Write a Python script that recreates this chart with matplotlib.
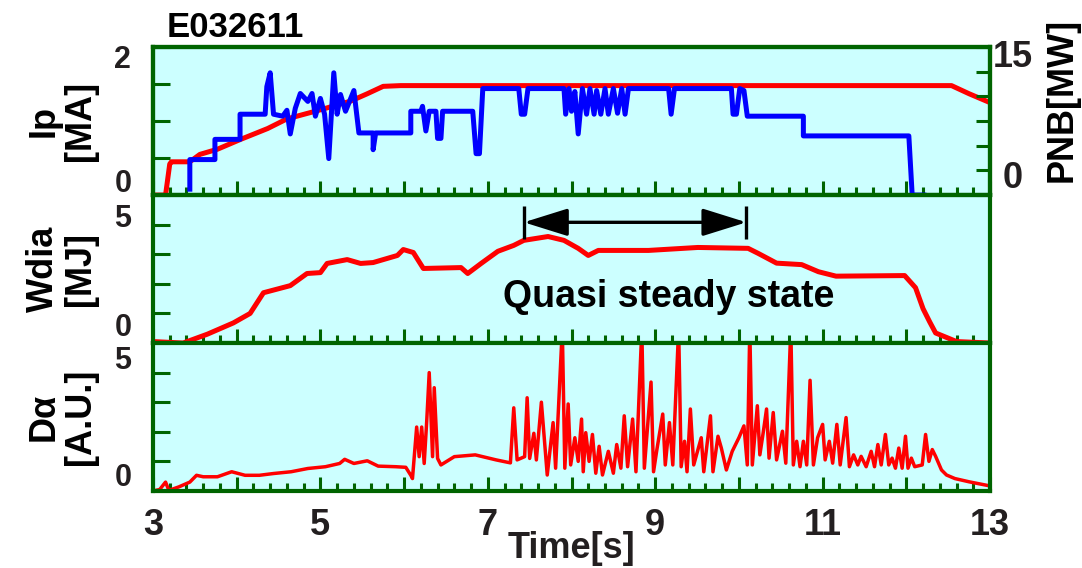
import numpy as np
import matplotlib
matplotlib.use('Agg')
import matplotlib.pyplot as plt
from matplotlib.ticker import MultipleLocator, FuncFormatter

plt.rcParams['font.family'] = ['Liberation Sans', 'DejaVu Sans']
plt.rcParams['font.weight'] = 'bold'

# ---- data ----
shot = 'E032611'

ip_t = [3.05, 3.15, 3.20, 3.22, 3.44, 3.56, 3.77, 4.04, 4.37, 4.60, 4.96, 5.36, 5.56,
        5.75, 5.96, 7.0, 8.0, 9.0, 10.0, 11.0, 12.0, 12.54, 12.75, 13.0]
ip_ma = [0.0, 0.0, 0.42, 0.45, 0.45, 0.55, 0.62, 0.75, 0.90, 1.03, 1.14, 1.27, 1.37,
         1.47, 1.48, 1.48, 1.48, 1.48, 1.48, 1.48, 1.48, 1.48, 1.37, 1.25]

pnb_t = [3.44, 3.44, 3.74, 3.74, 4.04, 4.04, 4.34, 4.36, 4.40, 4.44, 4.55, 4.60, 4.64,
         4.70, 4.76, 4.85, 4.90, 4.94, 5.00, 5.05, 5.10, 5.16, 5.20, 5.24, 5.30, 5.40,
         5.46, 5.63, 5.63, 5.66, 6.08, 6.08, 6.20, 6.22, 6.26, 6.30, 6.38, 6.40, 6.44,
         6.46, 6.82, 6.86, 6.90, 6.94, 7.37, 7.40, 7.44, 7.48, 7.91, 7.93, 7.97, 8.00,
         8.04, 8.08, 8.13, 8.18, 8.22, 8.27, 8.30, 8.35, 8.40, 8.44, 8.50, 8.55, 8.60,
         8.64, 8.68, 9.16, 9.19, 9.23, 9.91, 9.93, 9.97, 10.01, 10.06, 10.10, 10.77,
         10.77, 12.03, 12.07, 12.21]
pnb_mw = [0.6, 3.6, 3.6, 5.65, 5.65, 8.2, 8.2, 11.0, 12.4, 8.2, 8.0, 8.6, 6.2,
          8.8, 10.3, 9.5, 10.3, 8.0, 9.8, 8.2, 3.7, 12.4, 8.2, 10.2, 8.5, 10.6,
          6.3, 6.3, 4.6, 6.3, 6.3, 8.5, 8.5, 9.0, 6.5, 8.5, 8.5, 5.75, 5.75,
          8.5, 8.5, 4.2, 4.2, 10.8, 10.8, 8.2, 8.2, 10.8, 10.8, 8.2, 10.8, 8.5,
          10.5, 6.2, 10.8, 8.2, 10.8, 8.2, 10.6, 8.2, 10.8, 8.2, 10.8, 8.3, 10.8,
          8.2, 10.8, 10.8, 8.2, 10.8, 10.8, 8.2, 8.2, 10.8, 10.6, 8.0, 8.0,
          6.0, 6.0, 0.0, 0.0]

wdia_t = [3.0, 3.36, 3.65, 3.96, 4.16, 4.32, 4.64, 4.84, 5.00, 5.08, 5.32, 5.48, 5.63,
          5.92, 5.99, 6.11, 6.23, 6.68, 6.76, 6.92, 7.12, 7.31, 7.43, 7.72, 7.91, 8.08,
          8.20, 8.32, 8.92, 9.51, 10.11, 10.23, 10.45, 10.75, 10.95, 11.16, 11.98,
          12.11, 12.20, 12.28, 12.35, 12.60, 13.0]
wdia_mj = [0.05, 0.0, 0.3, 0.68, 1.0, 1.7, 1.94, 2.35, 2.38, 2.69, 2.82, 2.69, 2.72,
           2.96, 3.16, 3.06, 2.52, 2.55, 2.35, 2.69, 3.1, 3.3, 3.47, 3.6, 3.47, 3.2,
           2.96, 3.13, 3.13, 3.23, 3.2, 3.03, 2.70, 2.65, 2.41, 2.26, 2.28,
           1.87, 1.16, 0.71, 0.34, 0.05, 0.0]

da_t = [3.00, 3.08, 3.15, 3.19, 3.31, 3.44, 3.52, 3.60, 3.77, 3.94, 4.10, 4.27, 4.44,
        4.65, 4.85, 5.06, 5.23, 5.29, 5.40, 5.56, 5.69, 5.90, 6.02, 6.08, 6.10, 6.15,
        6.18, 6.21, 6.24, 6.27, 6.30, 6.34, 6.36, 6.40, 6.44, 6.60, 6.85, 7.10, 7.27,
        7.31, 7.35, 7.44, 7.47, 7.50, 7.55, 7.58, 7.64, 7.71, 7.78, 7.81, 7.85, 7.89,
        7.92, 7.96, 7.99, 8.04, 8.08, 8.12, 8.14, 8.17, 8.21, 8.25, 8.29, 8.33, 8.37,
        8.44, 8.50, 8.54, 8.59, 8.63, 8.67, 8.73, 8.77, 8.84, 8.87, 8.95, 8.98, 9.02,
        9.09, 9.12, 9.17, 9.21, 9.28, 9.31, 9.35, 9.38, 9.42, 9.46, 9.55, 9.58, 9.66,
        9.69, 9.75, 9.79, 9.85, 9.92, 10.00, 10.06, 10.10, 10.13, 10.16, 10.22, 10.25,
        10.29, 10.33, 10.36, 10.41, 10.45, 10.52, 10.56, 10.62, 10.65, 10.69, 10.73,
        10.77, 10.81, 10.85, 10.89, 10.94, 11.00, 11.03, 11.08, 11.12, 11.17, 11.21,
        11.28, 11.32, 11.37, 11.42, 11.46, 11.52, 11.58, 11.62, 11.66, 11.70, 11.75,
        11.79, 11.83, 11.87, 11.91, 11.95, 11.99, 12.02, 12.06, 12.10, 12.19, 12.23,
        12.27, 12.31, 12.35, 12.42, 12.48, 12.58, 12.75, 13.0]
da_au = [0.0, 0.05, 0.30, 0.02, 0.14, 0.30, 0.53, 0.48, 0.48, 0.65, 0.53, 0.53, 0.59,
         0.65, 0.76, 0.82, 0.93, 1.07, 0.93, 1.02, 0.84, 0.82, 0.80, 0.53, 0.42, 2.16,
         1.16, 2.16, 0.93, 2.35, 4.00, 1.16, 3.49, 1.10, 0.88, 1.16, 1.22, 1.05, 0.95,
         2.81, 1.05, 1.16, 3.15, 1.10, 1.95, 1.05, 3.00, 0.54, 2.31, 0.77, 3.11, 5.5,
         0.77, 2.94, 0.88, 1.80, 1.00, 2.43, 0.65, 1.97, 1.00, 1.91, 0.60, 1.51, 0.54,
         1.34, 0.60, 1.57, 0.77, 2.54, 0.82, 2.43, 0.65, 5.5, 0.77, 3.68, 0.65, 1.40,
         2.60, 0.88, 2.31, 0.88, 5.5, 0.82, 1.68, 0.65, 2.77, 0.88, 1.80, 0.65, 2.54,
         0.65, 1.85, 1.45, 0.71, 1.34, 1.80, 2.20, 0.88, 5.5, 0.88, 2.88, 1.22,
         1.97, 2.77, 1.11, 2.65, 1.05, 2.02, 0.94, 5.5, 0.88, 1.68, 0.82,
         1.68, 0.88, 3.74, 0.88, 1.80, 2.25, 1.05, 1.68, 0.94, 2.25, 0.88,
         2.48, 0.82, 1.22, 0.88, 1.17, 0.82, 1.34, 0.82, 1.57, 0.88, 1.91,
         0.88, 1.11, 0.77, 1.45, 0.77, 1.85, 0.77, 1.11, 0.82, 0.88, 1.91,
         1.00, 1.40, 1.17, 0.71, 0.54, 0.42, 0.31, 0.17]

qss_t = [7.43, 10.09]   # quasi steady state window
qss_y = 4.08

x_ticklabels = [3, 5, 7, 9, 11, 13]

green = '#006400'
bg = '#ccffff'
tick_col = '#231f20'

fig = plt.figure(figsize=(10.82, 5.68), dpi=100)
gs = fig.add_gridspec(3, 1, left=0.1414, right=0.915, top=0.917, bottom=0.1356, hspace=0)
ax_ip = fig.add_subplot(gs[0])
ax_w = fig.add_subplot(gs[1], sharex=ax_ip)
ax_d = fig.add_subplot(gs[2], sharex=ax_ip)


def style_axes(ax, ystep):
    ax.set_facecolor(bg)
    for sp in ax.spines.values():
        sp.set_color(green)
        sp.set_linewidth(3)
    ax.xaxis.set_major_locator(MultipleLocator(1))
    ax.xaxis.set_minor_locator(MultipleLocator(0.2))
    ax.yaxis.set_major_locator(MultipleLocator(ystep))
    ax.tick_params(axis='x', which='major', direction='in', length=10, width=2.2,
                   color=green, top=False, labelbottom=False)
    ax.tick_params(axis='x', which='minor', direction='in', length=6, width=2.2,
                   color=green, top=False)
    ax.tick_params(axis='y', which='major', direction='in', length=12, width=2.2,
                   color=green, right=False, labelleft=False)


def ylab_text(ax, lo, hi, ypos_lo, ypos_hi, x=-0.036, size=22):
    ax.text(x, ypos_hi, hi, transform=ax.transAxes, ha='center', va='center',
            fontsize=size, fontweight='bold', color=tick_col)
    ax.text(x, ypos_lo, lo, transform=ax.transAxes, ha='center', va='center',
            fontsize=size, fontweight='bold', color=tick_col)


# ---- Ip / PNB ----
style_axes(ax_ip, 0.5)
ax_ip.set_xlim(3, 13)
ax_ip.set_ylim(0, 2)
ax_ip.plot(ip_t, ip_ma, color='#ff0000', lw=3.6, zorder=3)
ax_pnb = ax_ip.twinx()
ax_pnb.set_ylim(0, 15)
ax_pnb.yaxis.set_major_locator(MultipleLocator(2.5))
ax_pnb.tick_params(axis='y', direction='in', length=10, width=2.2, color=green, labelright=False)
for sp in ax_pnb.spines.values():
    sp.set_color(green)
    sp.set_linewidth(3)
ax_pnb.plot(pnb_t, pnb_mw, color='#0000ff', lw=3.6)
ylab_text(ax_ip, '0', '2', 0.075, 0.91)
ylab_text(ax_ip, '0', '15', 0.11, 0.93, x=1.0275, size=26)
ax_ip.set_ylabel('Ip\n[MA]', fontsize=26, fontweight='bold', linespacing=1.05)
ax_ip.yaxis.set_label_coords(-0.066, 0.5)
ax_pnb.text(1.086, 0.64, 'PNB[MW]', transform=ax_ip.transAxes, rotation=90,
            ha='center', va='center', fontsize=26, fontweight='bold')
fig.text(0.154, 0.952, shot, fontsize=25, fontweight='bold', va='center', ha='left')

# ---- Wdia ----
style_axes(ax_w, 1)
ax_w.set_ylim(0, 5)
ax_w.plot(wdia_t, wdia_mj, color='#ff0000', lw=3.6)
ax_w.vlines(qss_t, qss_y - 0.56, qss_y + 0.56, color='k', lw=2.4)
ax_w.annotate('', xy=(qss_t[0], qss_y), xytext=(qss_t[1], qss_y),
              arrowprops=dict(arrowstyle='<|-|>,head_length=1.6,head_width=0.5',
                              mutation_scale=17, lw=2.4, color='k',
                              shrinkA=0, shrinkB=0))
ax_w.text(7.18, 1.56, 'Quasi steady state', fontsize=27, fontweight='bold',
          ha='left', va='center')
ylab_text(ax_w, '0', '5', 0.10, 0.84)
ax_w.set_ylabel('Wdia\n[MJ]', fontsize=26, fontweight='bold', linespacing=1.05)
ax_w.yaxis.set_label_coords(-0.066, 0.5)

# ---- D alpha ----
style_axes(ax_d, 1)
ax_d.set_ylim(0, 5)
ax_d.plot(da_t, da_au, color='#ff0000', lw=2.5)
ylab_text(ax_d, '0', '5', 0.09, 0.88)
ax_d.set_ylabel('D\u03b1\n[A.U.]', fontsize=26, fontweight='bold', linespacing=1.05)
ax_d.yaxis.set_label_coords(-0.066, 0.5)
ax_d.tick_params(axis='x', which='major', labelbottom=True, labelsize=26,
                 labelcolor=tick_col, pad=12)
ax_d.xaxis.set_major_formatter(FuncFormatter(
    lambda v, _: f'{v:.0f}' if round(v) in x_ticklabels else ''))
fig.text(0.528, 0.035, 'Time[s]', fontsize=26, fontweight='bold', ha='center',
         va='center', color=tick_col)

fig.savefig('out.png', dpi=100)
